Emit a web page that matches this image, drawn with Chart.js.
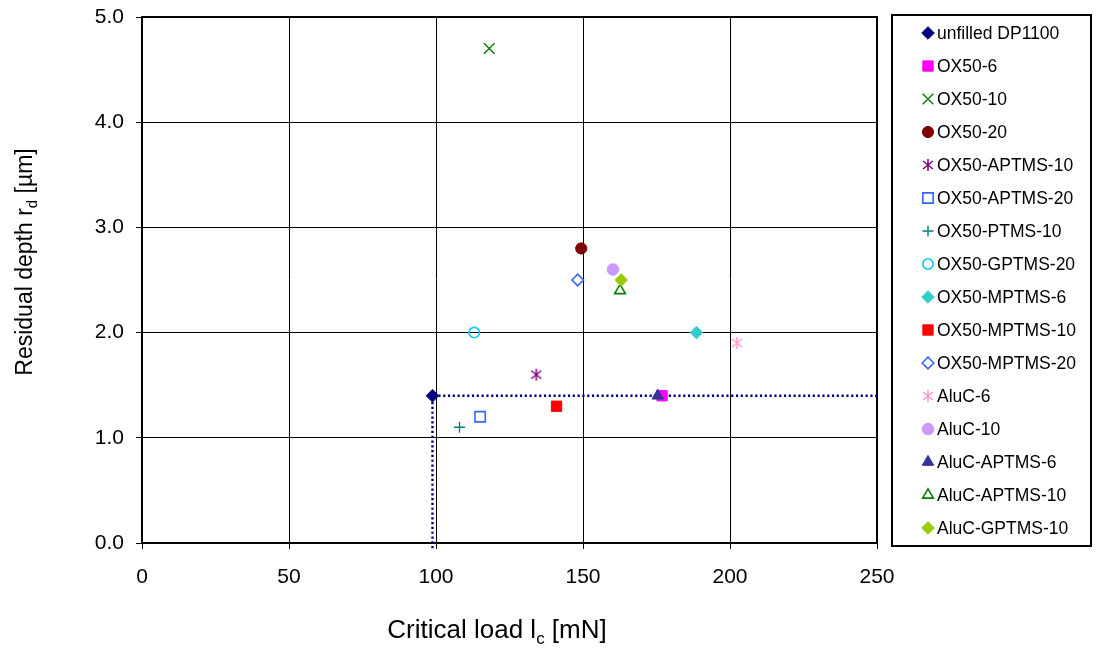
<!DOCTYPE html>
<html>
<head>
<meta charset="utf-8">
<script src="https://cdn.jsdelivr.net/npm/chart.js@4.4.1/dist/chart.umd.min.js"></script>
<style>
html,body{margin:0;padding:0;background:#fff;}
#wrap{position:relative;width:1096px;height:648px;}
</style>
</head>
<body>
<div id="wrap"><canvas id="c"></canvas></div>
<script>
// ---- data ----
const seriesNames = ["unfilled DP1100","OX50-6","OX50-10","OX50-20","OX50-APTMS-10","OX50-APTMS-20","OX50-PTMS-10","OX50-GPTMS-20","OX50-MPTMS-6","OX50-MPTMS-10","OX50-MPTMS-20","AluC-6","AluC-10","AluC-APTMS-6","AluC-APTMS-10","AluC-GPTMS-10"];
const criticalLoad = [98.8, 176.9, 118.1, 149.4, 134.1, 115.0, 108.0, 113.0, 188.6, 141.0, 148.2, 202.4, 160.2, 175.4, 162.6, 163.0];
const residualDepth = [1.4, 1.4, 4.7, 2.8, 1.6, 1.2, 1.1, 2.0, 2.0, 1.3, 2.5, 1.9, 2.6, 1.4, 2.4, 2.5];
const refLineX = [98.8, 98.8, 250];
const refLineY = [-0.05, 1.4, 1.4];
const xTicks = [0, 50, 100, 150, 200, 250];
const yTicks = [0.0, 1.0, 2.0, 3.0, 4.0, 5.0];

// ---- styles ----
function asterisk(color){
  const c = document.createElement('canvas');
  c.width = 14; c.height = 14;
  const g = c.getContext('2d');
  g.strokeStyle = color; g.lineWidth = 1.5;
  g.beginPath();
  g.moveTo(7, 1); g.lineTo(7, 13);
  g.moveTo(2, 3); g.lineTo(12, 11);
  g.moveTo(12, 3); g.lineTo(2, 11);
  g.stroke();
  return c;
}
const T = 'rgba(0,0,0,0)';
const markers = [
  {style:'rectRot', r:6.3, fill:'#000080', stroke:'#000080', bw:1},
  {style:'rect', r:7.3, fill:'#FF00FF', stroke:'#FF00FF', bw:1},
  {style:'crossRot', r:7.5, fill:T, stroke:'#008000', bw:1.4},
  {style:'circle', r:5.6, fill:'#800000', stroke:'#800000', bw:1},
  {style:asterisk('#800080'), r:7, fill:'#800080', stroke:'#800080', bw:1},
  {style:'rect', r:7.3, fill:T, stroke:'#3366FF', bw:1.6},
  {style:'cross', r:5.5, fill:T, stroke:'#008080', bw:1.4},
  {style:'circle', r:5.2, fill:T, stroke:'#00CCFF', bw:1.6},
  {style:'rectRot', r:6.3, fill:'#33CCCC', stroke:'#33CCCC', bw:1},
  {style:'rect', r:7.3, fill:'#FF0000', stroke:'#FF0000', bw:1},
  {style:'rectRot', r:5.8, fill:T, stroke:'#3366FF', bw:1.6},
  {style:asterisk('#FF99CC'), r:7, fill:'#FF99CC', stroke:'#FF99CC', bw:1},
  {style:'circle', r:5.8, fill:'#CC99FF', stroke:'#CC99FF', bw:1},
  {style:'triangle', r:6.6, fill:'#333399', stroke:'#333399', bw:1},
  {style:'triangle', r:6.2, fill:T, stroke:'#008000', bw:1.6},
  {style:'rectRot', r:6.3, fill:'#99CC00', stroke:'#99CC00', bw:1}
];

const datasets = seriesNames.map((name, i) => ({
  label: name,
  data: [{x: criticalLoad[i], y: residualDepth[i]}],
  pointStyle: markers[i].style,
  pointRadius: markers[i].r,
  pointHoverRadius: markers[i].r,
  backgroundColor: markers[i].fill,
  borderColor: markers[i].stroke,
  pointBorderWidth: markers[i].bw,
  showLine: false,
  order: seriesNames.length - i
}));
datasets.push({
  label: 'ref',
  data: refLineX.map((x, i) => ({x, y: refLineY[i]})),
  showLine: true,
  borderColor: '#000080',
  borderWidth: 2.4,
  borderDash: [2.2, 2.6],
  pointRadius: 0,
  fill: false,
  clip: false,
  order: 100
});

const FONT = '"Liberation Sans", Arial, sans-serif';

const decorPlugin = {
  id: 'decor',
  beforeDatasetsDraw(chart) {
    const {ctx, chartArea: a} = chart;
    ctx.save();
    ctx.strokeStyle = '#000';
    ctx.lineWidth = 2;
    ctx.strokeRect(a.left, a.top, a.right - a.left, a.bottom - a.top);
    ctx.restore();
  },
  afterDraw(chart) {
    const ctx = chart.ctx;
    ctx.save();
    ctx.fillStyle = '#000';
    function drawSub(parts, cx, cy, size) {
      let w = 0;
      parts.forEach(p => { ctx.font = (p.sub ? size*0.65 : size) + 'px ' + FONT; w += ctx.measureText(p.t).width; });
      let x = cx - w/2;
      ctx.textBaseline = 'alphabetic';
      ctx.textAlign = 'left';
      parts.forEach(p => {
        ctx.font = (p.sub ? size*0.65 : size) + 'px ' + FONT;
        ctx.fillText(p.t, x, cy + (p.sub ? size*0.22 : 0));
        x += ctx.measureText(p.t).width;
      });
    }
    drawSub([{t:'Critical load l'},{t:'c',sub:true},{t:' [mN]'}], 497, 638, 26);
    ctx.save();
    ctx.translate(32, 262);
    ctx.rotate(-Math.PI/2);
    drawSub([{t:'Residual depth r'},{t:'d',sub:true},{t:' [\u00B5m]'}], 0, 0, 23);
    ctx.restore();

    ctx.lineWidth = 2;
    ctx.strokeStyle = '#000';
    ctx.strokeRect(892, 15, 199, 531);
    ctx.font = '17.5px ' + FONT;
    ctx.textBaseline = 'middle';
    ctx.textAlign = 'left';
    seriesNames.forEach((name, i) => {
      const y = 33 + i * 33;
      const m = markers[i];
      ctx.save();
      ctx.fillStyle = m.fill;
      ctx.strokeStyle = m.stroke;
      ctx.lineWidth = m.bw;
      Chart.helpers.drawPoint(ctx, {pointStyle: m.style, radius: m.r, rotation: 0, borderWidth: m.bw}, 928, y);
      ctx.restore();
      ctx.fillStyle = '#000';
      ctx.fillText(name, 937, y + 1);
    });
    ctx.restore();
  }
};

new Chart(document.getElementById('c'), {
  type: 'scatter',
  data: { datasets },
  options: {
    responsive: true,
    maintainAspectRatio: false,
    animation: false,
    events: [],
    layout: { padding: { left: 0, top: 17, right: 219, bottom: 0 } },
    plugins: { legend: { display: false }, tooltip: { enabled: false } },
    scales: {
      x: {
        type: 'linear', min: 0, max: 250,
        afterBuildTicks: s => { s.ticks = xTicks.map(v => ({value: v})); },
        afterFit: s => { s.height = 105; s.paddingLeft = 0; s.paddingRight = 0; },
        ticks: { color: '#000', font: { family: FONT, size: 21 }, padding: 16, maxRotation: 0 },
        grid: { color: '#000', lineWidth: 1, tickLength: 6, tickColor: '#000' },
        border: { color: '#000', width: 2 }
      },
      y: {
        type: 'linear', min: 0, max: 5,
        afterBuildTicks: s => { s.ticks = yTicks.map(v => ({value: v})); },
        afterFit: s => { s.width = 142; s.paddingTop = 0; s.paddingBottom = 0; },
        ticks: { color: '#000', font: { family: FONT, size: 21 }, padding: 12, callback: v => Number(v).toFixed(1) },
        grid: { color: '#000', lineWidth: 1, tickLength: 6, tickColor: '#000' },
        border: { color: '#000', width: 2 }
      }
    }
  },
  plugins: [decorPlugin]
});
</script>
</body>
</html>
